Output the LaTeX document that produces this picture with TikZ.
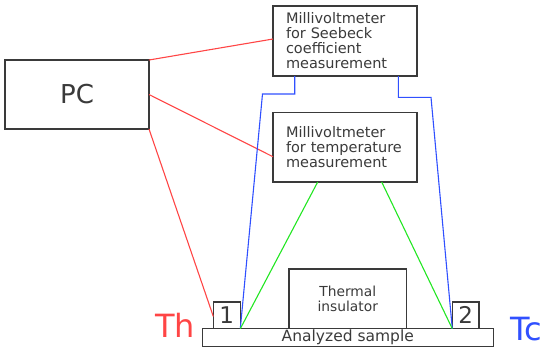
\documentclass[tikz,border=0pt]{standalone}
\usepackage{fontspec}
\setmainfont{DejaVu Sans}
\usepackage{xcolor}
\usetikzlibrary{positioning}

\definecolor{wirered}{HTML}{FF4545}
\definecolor{wireblue}{HTML}{3050FF}
\definecolor{wiregreen}{HTML}{22E622}
\definecolor{boxgray}{HTML}{3A3A3A}

\begin{document}
\begin{tikzpicture}[
  x=1pt, y=-1pt,
  box/.style={rectangle, draw=boxgray, line width=1.3pt, outer sep=0pt, inner sep=0pt, text=boxgray},
  meter/.style={box, minimum width=144pt, minimum height=70pt, text width=118pt, inner xsep=13pt,
                align=left, font=\fontsize{14.5}{15}\selectfont},
  wire/.style={line width=1.1pt},
]
  \useasboundingbox (0,0) rectangle (550,354);

  \node[box, minimum width=144pt, minimum height=69pt, font=\fontsize{26}{30}\selectfont] (pc) at (77,94.5) {PC};
  \node[meter] (seeb) at (345,41) {Millivoltmeter\\for Seebeck\\coefficient\\measurement};
  \node[meter, minimum height=69.3pt, below=36.7pt of seeb] (temp) {Millivoltmeter\\for temperature\\measurement};

  \node[box, minimum width=291pt, minimum height=18pt, font=\fontsize{15.5}{15}\selectfont] (sample) at (347.8,337.7) {Analyzed sample};
  \node[box, minimum width=117.7pt, minimum height=59.7pt, align=center, font=\fontsize{13.8}{15}\selectfont,
        above=0pt of sample] (ins) {Thermal\\insulator};
  \node[box, minimum width=27pt, minimum height=26.6pt, font=\fontsize{23}{24}\selectfont,
        above right=0pt and 11pt of sample.north west] (blk1) {1};
  \node[box, minimum width=26.7pt, minimum height=26.6pt, font=\fontsize{23}{24}\selectfont,
        above left=0pt and 14.3pt of sample.north east] (blk2) {2};

  \node[anchor=base, text=wirered, font=\fontsize{32}{34}\selectfont] (th) at (175,337.3) {Th};
  \node[anchor=base, text=wireblue, font=\fontsize{32}{34}\selectfont] (tc) at (526.5,340.7) {Tc};

  \coordinate (bendl) at (262.5,94);
  \coordinate (bendr) at (431,97.3);

  \draw[wire, wirered] (pc.north east) -- ([yshift=2pt]seeb.west);
  \draw[wire, wirered] (pc.east) -- ([yshift=-9.4pt]temp.west);
  \draw[wire, wirered] (pc.south east) -- ([yshift=-1pt]blk1.west);

  \draw[wire, wireblue] ([xshift=-50.3pt]seeb.south) |- (bendl) -- (blk1.south east);
  \draw[wire, wireblue] ([xshift=53.3pt]seeb.south) |- (bendr) -- (blk2.south west);

  \draw[wire, wiregreen] ([xshift=-27.3pt]temp.south) -- (blk1.south east);
  \draw[wire, wiregreen] ([xshift=36.7pt]temp.south) -- (blk2.south west);
\end{tikzpicture}
\end{document}
